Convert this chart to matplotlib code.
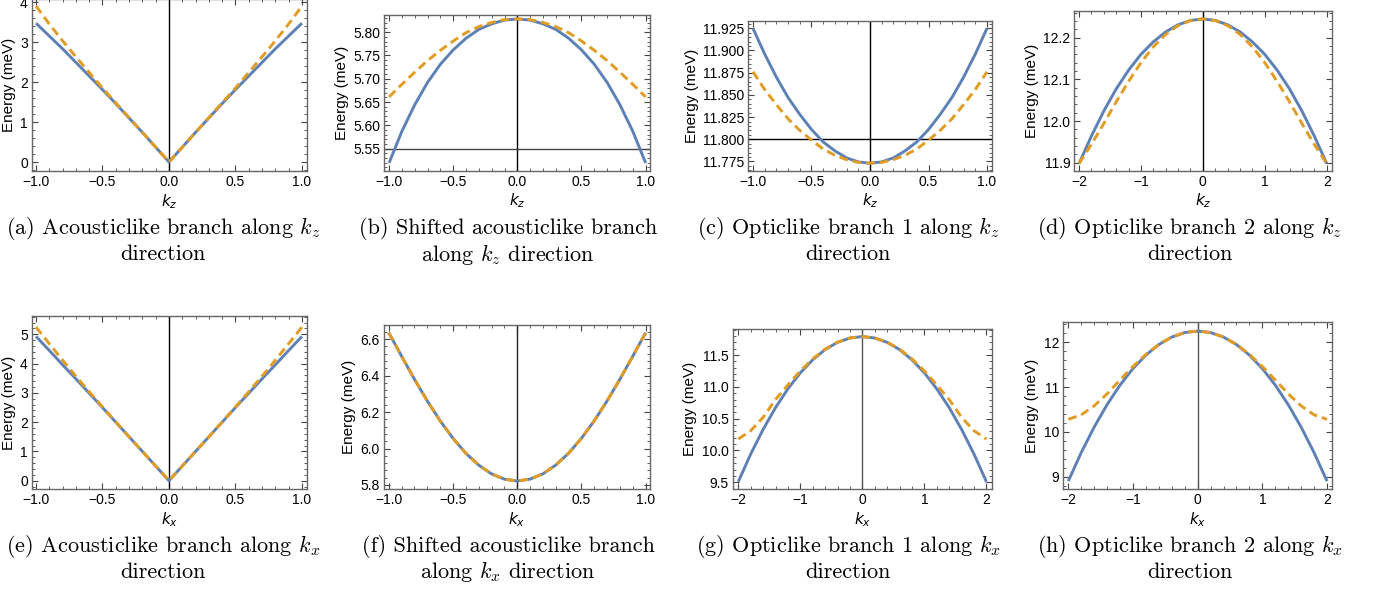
import matplotlib
matplotlib.use("Agg")
import matplotlib.pyplot as plt
from matplotlib.ticker import MultipleLocator, FuncFormatter

# ---------------- data ----------------
k_one = [-1.0, -0.9, -0.8, -0.7, -0.6, -0.5, -0.4, -0.3, -0.2, -0.1, 0.0,
         0.1, 0.2, 0.3, 0.4, 0.5, 0.6, 0.7, 0.8, 0.9, 1.0]
k_two = [-2.0, -1.8, -1.6, -1.4, -1.2, -1.0, -0.8, -0.6, -0.4, -0.2, 0.0,
         0.2, 0.4, 0.6, 0.8, 1.0, 1.2, 1.4, 1.6, 1.8, 2.0]

a_blue = [3.47, 3.15, 2.83, 2.49, 2.15, 1.81, 1.46, 1.10, 0.74, 0.37, 0.0,
          0.37, 0.74, 1.10, 1.46, 1.81, 2.15, 2.49, 2.83, 3.15, 3.47]
a_orange = [3.90, 3.45, 3.03, 2.63, 2.24, 1.85, 1.48, 1.11, 0.74, 0.37, 0.0,
            0.37, 0.74, 1.11, 1.48, 1.85, 2.24, 2.63, 3.03, 3.45, 3.90]

b_blue = [5.519, 5.587, 5.644, 5.692, 5.731, 5.762, 5.787, 5.806, 5.818, 5.826, 5.8285,
          5.826, 5.818, 5.806, 5.787, 5.762, 5.731, 5.692, 5.644, 5.587, 5.519]
b_orange = [5.661, 5.688, 5.714, 5.739, 5.761, 5.781, 5.799, 5.812, 5.821, 5.827, 5.8285,
            5.827, 5.821, 5.812, 5.799, 5.781, 5.761, 5.739, 5.714, 5.688, 5.661]

c_blue = [11.925, 11.896, 11.870, 11.847, 11.828, 11.811, 11.797, 11.787, 11.779, 11.7745, 11.773,
          11.7745, 11.779, 11.787, 11.797, 11.811, 11.828, 11.847, 11.870, 11.896, 11.925]
c_orange = [11.876, 11.856, 11.839, 11.823, 11.810, 11.799, 11.789, 11.782, 11.777, 11.774, 11.773,
            11.774, 11.777, 11.782, 11.789, 11.799, 11.810, 11.823, 11.839, 11.856, 11.876]

d_blue = [11.898, 11.964, 12.024, 12.077, 12.122, 12.160, 12.190, 12.214, 12.231, 12.2415, 12.245,
          12.2415, 12.231, 12.214, 12.190, 12.160, 12.122, 12.077, 12.024, 11.964, 11.898]
d_orange = [11.898, 11.944, 11.994, 12.046, 12.095, 12.140, 12.178, 12.208, 12.229, 12.241, 12.245,
            12.241, 12.229, 12.208, 12.178, 12.140, 12.095, 12.046, 11.994, 11.944, 11.898]

e_blue = [4.93, 4.45, 3.96, 3.48, 2.99, 2.50, 2.00, 1.50, 1.00, 0.50, 0.0,
          0.50, 1.00, 1.50, 2.00, 2.50, 2.99, 3.48, 3.96, 4.45, 4.93]
e_orange = [5.25, 4.68, 4.12, 3.57, 3.04, 2.52, 2.01, 1.50, 1.00, 0.50, 0.0,
            0.50, 1.00, 1.50, 2.01, 2.52, 3.04, 3.57, 4.12, 4.68, 5.25]

f_blue = [6.635, 6.506, 6.380, 6.261, 6.152, 6.056, 5.974, 5.909, 5.861, 5.832, 5.822,
          5.832, 5.861, 5.909, 5.974, 6.056, 6.152, 6.261, 6.380, 6.506, 6.635]
f_orange = [6.635, 6.506, 6.380, 6.261, 6.152, 6.056, 5.974, 5.909, 5.861, 5.832, 5.822,
            5.832, 5.861, 5.909, 5.974, 6.056, 6.152, 6.261, 6.380, 6.506, 6.635]

g_blue = [9.51, 9.943, 10.331, 10.673, 10.969, 11.22, 11.425, 11.585, 11.699, 11.767, 11.79,
          11.767, 11.699, 11.585, 11.425, 11.22, 10.969, 10.673, 10.331, 9.943, 9.51]
g_orange = [10.18, 10.31, 10.52, 10.80, 11.03, 11.25, 11.44, 11.592, 11.702, 11.768, 11.79,
            11.768, 11.702, 11.592, 11.44, 11.25, 11.03, 10.80, 10.52, 10.31, 10.18]

h_blue = [8.90, 9.537, 10.106, 10.609, 11.044, 11.413, 11.714, 11.949, 12.116, 12.217, 12.25,
          12.217, 12.116, 11.949, 11.714, 11.413, 11.044, 10.609, 10.106, 9.537, 8.90]
h_orange = [10.28, 10.38, 10.58, 10.85, 11.16, 11.46, 11.73, 11.952, 12.117, 12.217, 12.25,
            12.217, 12.117, 11.952, 11.73, 11.46, 11.16, 10.85, 10.58, 10.38, 10.28]

captions = [
    ("(a) Acousticlike branch along $k_z$", "direction"),
    ("(b) Shifted acousticlike branch", "along $k_z$ direction"),
    ("(c) Opticlike branch 1 along $k_z$", "direction"),
    ("(d) Opticlike branch 2 along $k_z$", "direction"),
    ("(e) Acousticlike branch along $k_x$", "direction"),
    ("(f) Shifted acousticlike branch", "along $k_x$ direction"),
    ("(g) Opticlike branch 1 along $k_x$", "direction"),
    ("(h) Opticlike branch 2 along $k_x$", "direction"),
]
xlabels = ["$k_z$"] * 4 + ["$k_x$"] * 4
ylabel = "Energy (meV)"

# ---------------- styling / layout ----------------
W, H = 1379, 589
plt.rcParams["font.family"] = ["Liberation Sans", "DejaVu Sans"]
fig = plt.figure(figsize=(W / 100, H / 100), dpi=100)

BLUE = "#5E81B5"
ORANGE = "#E19C24"

# axes boxes in pixels: left, right, top, bottom
boxes = [
    (32, 307, -1, 171), (384.3, 650, 15, 170.7), (748.3, 991.7, 21, 170.7), (1074.3, 1332.3, 11, 170.7),
    (32, 307, 316, 489), (384, 650, 325, 489), (732.7, 992, 329.3, 489), (1063.3, 1332, 322.3, 489),
]
xlims = [(-1.03, 1.038), (-1.037, 1.034), (-1.04, 1.04), (-2.076, 2.09),
         (-1.03, 1.038), (-1.037, 1.034), (-2.09, 2.09), (-2.077, 2.077)]
ylims = [(-0.225, 4.075), (5.5024, 5.837), (11.7646, 11.9332), (11.881, 12.264),
         (-0.284, 5.627), (5.778, 6.677), (9.395, 11.904), (8.725, 12.446)]
# (x major, x minor, x decimals, y major, y minor, y decimals)
ticks = [(0.5, 0.1, 1, 1, 0.2, 0),
         (0.5, 0.1, 1, 0.05, 0.01, 2),
         (0.5, 0.1, 1, 0.025, 0.005, 3),
         (1, 0.2, 0, 0.1, 0.02, 1),
         (0.5, 0.1, 1, 1, 0.2, 0),
         (0.5, 0.1, 1, 0.2, 0.04, 1),
         (1, 0.2, 0, 0.5, 0.1, 1),
         (1, 0.2, 0, 1, 0.2, 0)]
series = [(k_one, a_blue, a_orange), (k_one, b_blue, b_orange), (k_one, c_blue, c_orange),
          (k_two, d_blue, d_orange), (k_one, e_blue, e_orange), (k_one, f_blue, f_orange),
          (k_two, g_blue, g_orange), (k_two, h_blue, h_orange)]
hlines = {1: (5.55, "#444444"), 2: (11.8, "black")}
vcolors = ["black", "black", "black", "black", "black", "#222222", "#555555", "#555555"]
cap_x = [163, 508, 848, 1190] * 2
cap_y = [(228, 254)] * 4 + [(546, 572)] * 4


def fmt(d):
    def f(v, p):
        if abs(v) < 1e-9:
            v = 0.0
        return f"{v:.{d}f}".replace("-", "\u2212")
    return FuncFormatter(f)


for i in range(8):
    l, r, t, b = boxes[i]
    ax = fig.add_axes([l / W, 1 - b / H, (r - l) / W, (b - t) / H])
    k, eb, eo = series[i]
    ax.plot(k, eb, color=BLUE, lw=2.1, solid_capstyle="butt", zorder=3)
    ax.plot(k, eo, color=ORANGE, lw=2.1, dashes=(3.0, 1.7), zorder=4)
    ax.axvline(0, color=vcolors[i], lw=1.0, zorder=2)
    if i in hlines:
        y0, c = hlines[i]
        ax.axhline(y0, color=c, lw=1.0, zorder=2)
    ax.set_xlim(*xlims[i])
    ax.set_ylim(*ylims[i])
    xM, xm, xd, yM, ym, yd = ticks[i]
    ax.xaxis.set_major_locator(MultipleLocator(xM))
    ax.xaxis.set_minor_locator(MultipleLocator(xm))
    ax.yaxis.set_major_locator(MultipleLocator(yM))
    ax.yaxis.set_minor_locator(MultipleLocator(ym))
    ax.xaxis.set_major_formatter(fmt(xd))
    ax.yaxis.set_major_formatter(fmt(yd))
    ax.tick_params(which="both", direction="in", top=True, right=True,
                   color="#444444", labelsize=10, labelcolor="black")
    ax.tick_params(which="major", length=4, width=0.8, pad=3)
    ax.tick_params(which="minor", length=2, width=0.6)
    for s in ax.spines.values():
        s.set_color("#666666")
        s.set_linewidth(1.0)
    ax.set_xlabel(xlabels[i], fontsize=11, labelpad=2)
    ax.set_ylabel(ylabel, fontsize=11, labelpad=3)
    c1, c2 = captions[i]
    y1, y2 = cap_y[i]
    fig.text(cap_x[i] / W, 1 - y1 / H, c1, ha="center", va="center",
             fontfamily="cmr10", math_fontfamily="cm", fontsize=16)
    fig.text(cap_x[i] / W, 1 - y2 / H, c2, ha="center", va="center",
             fontfamily="cmr10", math_fontfamily="cm", fontsize=16)

fig.savefig("out.png", dpi=100)
